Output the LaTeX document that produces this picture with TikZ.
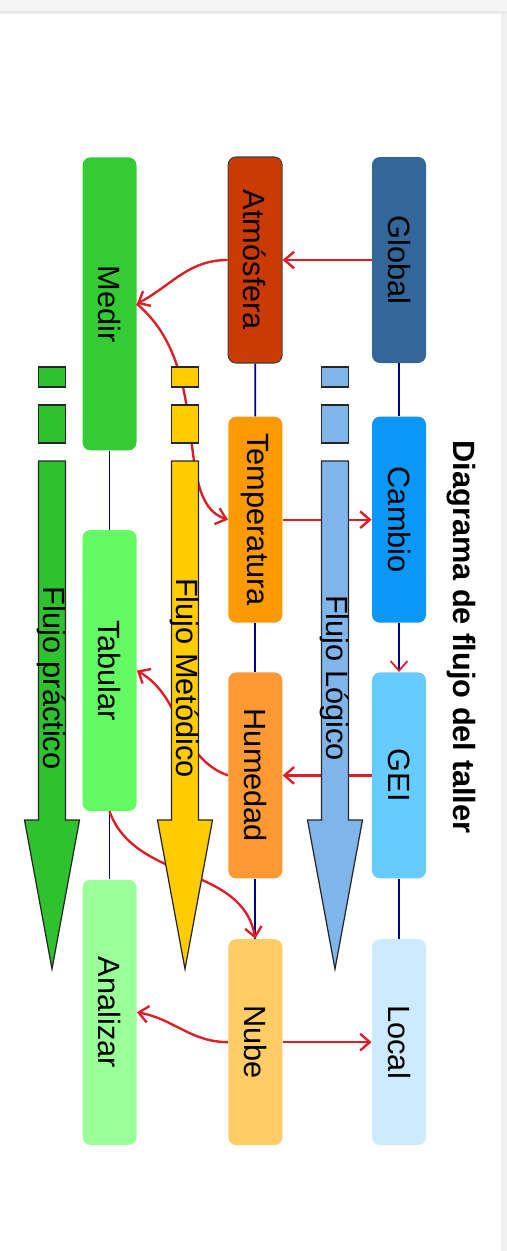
\documentclass[tikz,border=0pt]{standalone}
\usepackage{fontspec}
\setmainfont{Liberation Sans}
\usepackage{graphicx}
\usetikzlibrary{arrows.meta,positioning}
\definecolor{globalc}{HTML}{336699}
\definecolor{cambioc}{HTML}{0A97F8}
\definecolor{geic}{HTML}{66CCFF}
\definecolor{localc}{HTML}{CCEBFF}
\definecolor{atmc}{HTML}{CC3A04}
\definecolor{tempc}{HTML}{FC9A04}
\definecolor{humc}{HTML}{FC9933}
\definecolor{nubec}{HTML}{FFCC66}
\definecolor{medirc}{HTML}{33CC33}
\definecolor{tabc}{HTML}{63FA63}
\definecolor{anac}{HTML}{99FF99}
\definecolor{flowblue}{HTML}{7FB5E9}
\definecolor{flowyellow}{HTML}{FFCC00}
\definecolor{flowgreen}{HTML}{2EC22E}
\definecolor{relred}{HTML}{DD1E26}
\definecolor{linknavy}{HTML}{000080}
\newcommand{\vt}[1]{\rotatebox{-90}{#1}}

\begin{document}
\begin{tikzpicture}[>=Stealth,node distance=1.06cm and 1.78cm,
  box/.style={rounded corners=4.5pt,minimum width=1.08cm,minimum height=4.12cm,
    inner sep=0pt,font=\fontsize{17.5}{20}\selectfont},
  link/.style={draw=linknavy,line width=1pt},
  rel/.style={draw=relred,line width=1.35pt,-{Straight Barb[length=5.5pt,width=9.5pt]}},
  flow/.style={draw=black!85,line width=0.7pt},
  lab/.style={font=\fontsize{17.5}{20}\selectfont,rotate=-90}]
\useasboundingbox (0,0) rectangle (10.14,-25.02);
\fill[gray!8] (0,0) rectangle (10.14,-0.26);
\fill[gray!16] (0,-0.21) rectangle (10.14,-0.27);
\fill[gray!12] (10.02,-0.27) rectangle (10.14,-25.02);

% escala global -> local
\node[box,fill=globalc] (Global) at (7.98,-5.20) {\vt{Global}};
\node[box,fill=cambioc,below=of Global] (Cambio) {\vt{Cambio}};
\node[box,fill=geic,below=0.98cm of Cambio] (GEI) {\vt{GEI}};
\node[box,fill=localc,below=1.2cm of GEI] (Local) {\vt{Local}};
% variables
\node[box,fill=atmc,draw=black!75,line width=0.6pt,left=of Global] (Atm) {\vt{Atmósfera}};
\node[box,fill=tempc,left=of Cambio] (Temp) {\vt{Temperatura}};
\node[box,fill=humc,left=of GEI] (Hum) {\vt{Humedad}};
\node[box,fill=nubec,left=of Local] (Nube) {\vt{Nube}};
% trabajo
\node[box,fill=medirc,minimum height=5.86cm,anchor=north] (Medir) at (2.19,-3.14) {\vt{Medir}};
\node[box,fill=tabc,minimum height=5.62cm,below=1.58cm of Medir] (Tabular) {\vt{Tabular}};
\node[box,fill=anac,minimum height=5.3cm,below=1.36cm of Tabular] (Analizar) {\vt{Analizar}};

\draw[link] (Global) -- (Cambio);
\draw[link,-{Straight Barb[length=5.5pt,width=9.5pt,color=relred]}] (Cambio) -- (GEI);
\draw[link] (GEI) -- (Local);
\draw[link] (Atm) -- (Temp);
\draw[link] (Temp) -- (Hum);
\draw[link] (Hum) -- (Nube);
\draw[link] (Medir) -- (Tabular);
\draw[link] (Tabular) -- (Analizar);

\draw[rel] (Global.west) -- (Atm.east);
\draw[rel] (Atm.west) to[out=180,in=28] (Medir.east);
\draw[rel] (Medir.east) to[out=-40,in=162,out distance=2.04cm,in distance=1.2cm] (Temp.west);
\draw[rel] (Temp.east) -- (Cambio.west);
\draw[rel] (GEI.west) -- (Hum.east);
\draw[rel] (Hum.west) to[out=160,in=-30] (Tabular.east);
\draw[rel] (Tabular.south) to[out=-70,in=100] (Nube.north);
\draw[rel] (Nube.east) -- (Local.west);
\draw[rel] (Nube.west) to[out=180,in=-10] (Analizar.east);

% flechas de flujo
\foreach \cx/\fc/\txt [count=\i] in {6.70/flowblue/Flujo Lógico,3.70/flowyellow/Flujo Metódico,1.04/flowgreen/Flujo práctico}{
  \filldraw[flow,fill=\fc] ({\cx-0.27},-7.34) rectangle ({\cx+0.27},-7.74);
  \filldraw[flow,fill=\fc] ({\cx-0.27},-8.10) rectangle ({\cx+0.27},-8.86);
  \filldraw[flow,fill=\fc] ({\cx-0.27},-9.22) -- ({\cx+0.27},-9.22) -- ({\cx+0.27},-16.40)
    -- ({\cx+0.55},-16.40) -- (\cx,-19.38) -- ({\cx-0.55},-16.40) -- ({\cx-0.27},-16.40) -- cycle;
  \node[lab] (fl\i) at (\cx,-13.56) {\txt};
}

\node[lab,font=\fontsize{17.5}{20}\selectfont\bfseries] (title) at (9.22,-12.74) {Diagrama de flujo del taller};
\end{tikzpicture}
\end{document}
